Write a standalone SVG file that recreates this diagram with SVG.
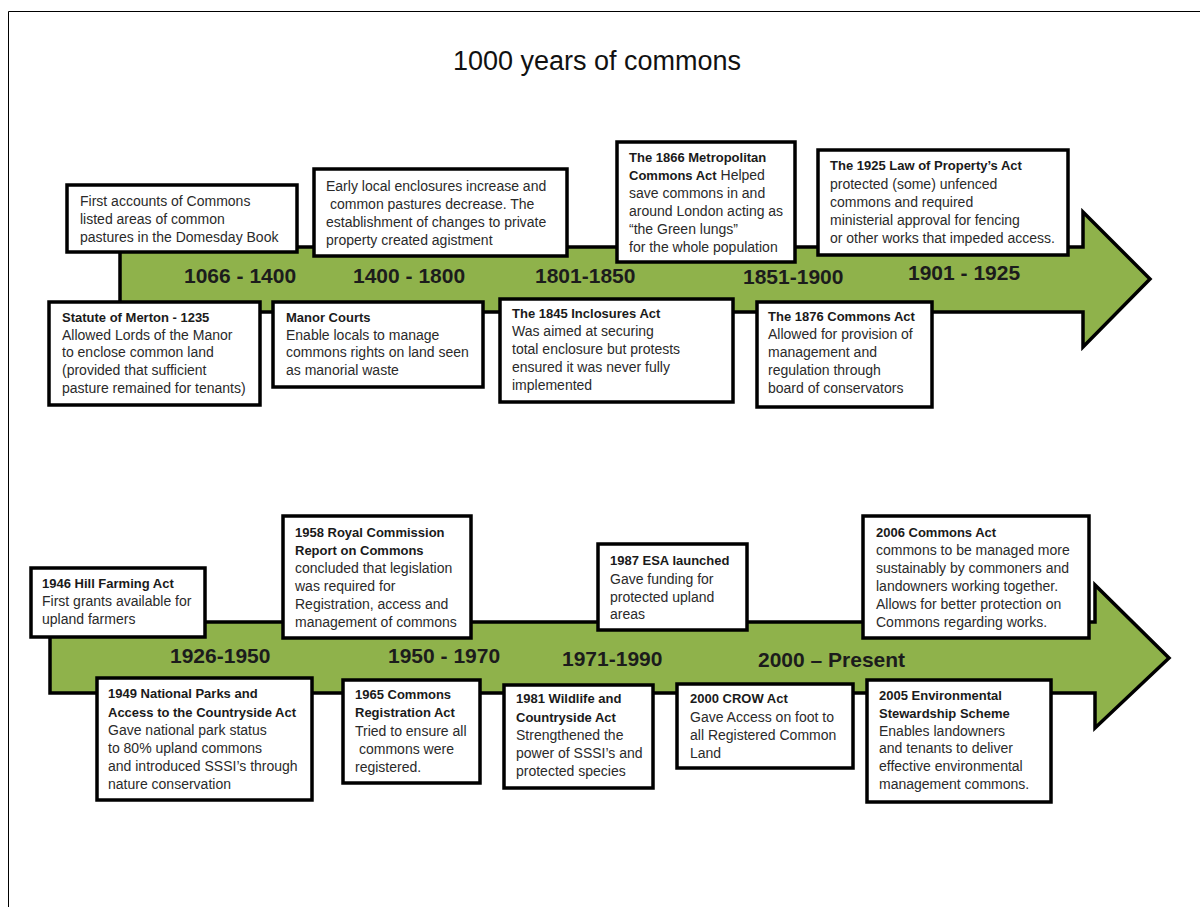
<svg xmlns="http://www.w3.org/2000/svg" width="1200" height="907" viewBox="0 0 1200 907">
<style>
.box{fill:#fff;stroke:#000;stroke-width:3.5}
.arrow{fill:#8fb24b;stroke:#000;stroke-width:3.5;stroke-linejoin:miter}
text{font-family:"Liberation Sans",Arial,sans-serif}
.t{font-size:14px;fill:#2a2a2a}
.b{font-size:13px;font-weight:bold;fill:#1a1a1a}
.yr{font-size:21px;font-weight:bold;fill:#1c1c1c}
.title{font-size:27px;fill:#111;text-anchor:middle}
</style>
<rect x="0" y="0" width="1200" height="907" fill="#fff"/>
<path d="M8.5 907 V11.5 H1200" fill="none" stroke="#000" stroke-width="1"/>
<text class="title" x="597" y="70">1000 years of commons</text>

<g id="connectors">
<polygon class="arrow" points="120,247 1083,247 1083,212 1150,279 1083,347 1083,312 120,312"/>
<polygon class="arrow" points="50,622 1095,622 1095,585 1169,658 1095,728 1095,693 50,693"/>
</g>

<g id="period-labels">
<text class="yr" x="184" y="283">1066 - 1400</text>
<text class="yr" x="353" y="283">1400 - 1800</text>
<text class="yr" x="535" y="283">1801-1850</text>
<text class="yr" x="743" y="284">1851-1900</text>
<text class="yr" x="908" y="280">1901 - 1925</text>
<text class="yr" x="170" y="663">1926-1950</text>
<text class="yr" x="388" y="663">1950 - 1970</text>
<text class="yr" x="562" y="666">1971-1990</text>
<text class="yr" x="758" y="667">2000 – Present</text>
</g>

<g id="first-accounts">
<rect class="box" x="67" y="185" width="230" height="67"/>
<text class="t" x="80" y="206">First accounts of Commons</text>
<text class="t" x="80" y="224">listed areas of common</text>
<text class="t" x="80" y="242">pastures in the Domesday Book</text>
</g>

<g id="early-enclosures">
<rect class="box" x="314" y="169" width="253" height="87"/>
<text class="t" x="326" y="191">Early local enclosures increase and</text>
<text class="t" x="330" y="209">common pastures decrease. The</text>
<text class="t" x="326" y="227">establishment of changes to  private</text>
<text class="t" x="326" y="245">property created agistment</text>
</g>

<g id="metropolitan-1866">
<rect class="box" x="617" y="142" width="178" height="120"/>
<text class="b" x="629" y="162">The 1866 Metropolitan</text>
<text class="t" x="629" y="180"><tspan class="b">Commons Act</tspan> Helped</text>
<text class="t" x="629" y="198">save commons in and</text>
<text class="t" x="629" y="216">around London acting as</text>
<text class="t" x="629" y="234">“the Green lungs”</text>
<text class="t" x="629" y="252">for the whole population</text>
</g>

<g id="law-of-property-1925">
<rect class="box" x="818" y="150" width="250" height="105"/>
<text class="b" x="830" y="170">The 1925 Law of Property’s Act</text>
<text class="t" x="830" y="189">protected (some) unfenced</text>
<text class="t" x="830" y="207">commons and required</text>
<text class="t" x="830" y="225">ministerial approval for fencing</text>
<text class="t" x="830" y="243">or other works that impeded access.</text>
</g>

<g id="statute-of-merton">
<rect class="box" x="49" y="302" width="211" height="103"/>
<text class="b" x="62" y="322">Statute of Merton  - 1235</text>
<text class="t" x="62" y="340">Allowed Lords of the Manor</text>
<text class="t" x="62" y="357">to enclose common land</text>
<text class="t" x="62" y="375">(provided that sufficient</text>
<text class="t" x="62" y="393">pasture remained for tenants)</text>
</g>

<g id="manor-courts">
<rect class="box" x="273" y="302" width="210" height="85"/>
<text class="b" x="286" y="322">Manor Courts</text>
<text class="t" x="286" y="340">Enable locals to manage</text>
<text class="t" x="286" y="357">commons rights on land seen</text>
<text class="t" x="286" y="375">as manorial waste</text>
</g>

<g id="inclosures-1845">
<rect class="box" x="500" y="299" width="233" height="103"/>
<text class="b" x="512" y="318">The 1845 Inclosures Act</text>
<text class="t" x="512" y="336">Was aimed at securing</text>
<text class="t" x="512" y="354">total enclosure but protests</text>
<text class="t" x="512" y="372">ensured it was never fully</text>
<text class="t" x="512" y="390">implemented</text>
</g>

<g id="commons-act-1876">
<rect class="box" x="757" y="302" width="175" height="105"/>
<text class="b" x="768" y="321">The 1876 Commons Act</text>
<text class="t" x="768" y="339">Allowed for provision of</text>
<text class="t" x="768" y="357">management  and</text>
<text class="t" x="768" y="375">regulation through</text>
<text class="t" x="768" y="393">board of conservators</text>
</g>

<g id="hill-farming-1946">
<rect class="box" x="31" y="568" width="174" height="69"/>
<text class="b" x="42" y="588">1946 Hill Farming Act</text>
<text class="t" x="42" y="606">First grants available for</text>
<text class="t" x="42" y="624">upland farmers</text>
</g>

<g id="royal-commission-1958">
<rect class="box" x="283" y="516" width="188" height="122"/>
<text class="b" x="295" y="537">1958 Royal Commission</text>
<text class="b" x="295" y="555">Report on Commons</text>
<text class="t" x="295" y="573">concluded that legislation</text>
<text class="t" x="295" y="591">was required for</text>
<text class="t" x="295" y="609">Registration, access and</text>
<text class="t" x="295" y="627">management of commons</text>
</g>

<g id="esa-1987">
<rect class="box" x="598" y="544" width="149" height="86"/>
<text class="b" x="610" y="565">1987 ESA  launched</text>
<text class="t" x="610" y="584">Gave funding for</text>
<text class="t" x="610" y="602">protected upland</text>
<text class="t" x="610" y="619">areas</text>
</g>

<g id="commons-act-2006">
<rect class="box" x="863" y="516" width="226" height="122"/>
<text class="b" x="876" y="537">2006 Commons Act</text>
<text class="t" x="876" y="555">commons to be managed more</text>
<text class="t" x="876" y="573">sustainably  by commoners and</text>
<text class="t" x="876" y="591">landowners working together.</text>
<text class="t" x="876" y="609">Allows for better protection on</text>
<text class="t" x="876" y="627">Commons regarding works.</text>
</g>

<g id="national-parks-1949">
<rect class="box" x="97" y="678" width="215" height="122"/>
<text class="b" x="108" y="698">1949 National Parks and</text>
<text class="b" x="108" y="717">Access to the Countryside Act</text>
<text class="t" x="108" y="735">Gave national park status</text>
<text class="t" x="108" y="753">to 80% upland commons</text>
<text class="t" x="108" y="771">and introduced SSSI’s through</text>
<text class="t" x="108" y="789">nature conservation</text>
</g>

<g id="commons-registration-1965">
<rect class="box" x="343" y="680" width="137" height="103"/>
<text class="b" x="355" y="699">1965 Commons</text>
<text class="b" x="355" y="717">Registration Act</text>
<text class="t" x="355" y="736">Tried to ensure all</text>
<text class="t" x="359" y="754">commons were</text>
<text class="t" x="355" y="772">registered.</text>
</g>

<g id="wildlife-countryside-1981">
<rect class="box" x="504" y="685" width="149" height="103"/>
<text class="b" x="516" y="703">1981 Wildlife and</text>
<text class="b" x="516" y="722">Countryside Act</text>
<text class="t" x="516" y="740">Strengthened the</text>
<text class="t" x="516" y="758">power of SSSI’s and</text>
<text class="t" x="516" y="776">protected species</text>
</g>

<g id="crow-act-2000">
<rect class="box" x="677" y="684" width="176" height="84"/>
<text class="b" x="690" y="703">2000 CROW Act</text>
<text class="t" x="690" y="722">Gave Access on foot to</text>
<text class="t" x="690" y="740">all Registered Common</text>
<text class="t" x="690" y="758">Land</text>
</g>

<g id="environmental-stewardship-2005">
<rect class="box" x="867" y="680" width="184" height="122"/>
<text class="b" x="879" y="700">2005 Environmental</text>
<text class="b" x="879" y="718">Stewardship Scheme</text>
<text class="t" x="879" y="736">Enables  landowners</text>
<text class="t" x="879" y="753">and tenants to deliver</text>
<text class="t" x="879" y="771">effective environmental</text>
<text class="t" x="879" y="789">management  commons.</text>
</g>
</svg>
